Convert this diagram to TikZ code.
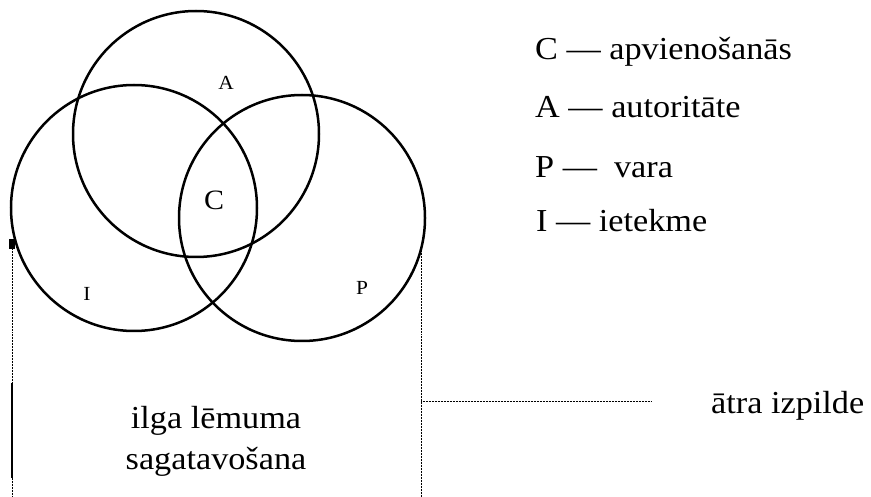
\documentclass[tikz,border=0pt]{standalone}
\usepackage{fontspec}
\setmainfont[FakeStretch=1.07]{Liberation Serif}
\usetikzlibrary{positioning}

\begin{document}
\begin{tikzpicture}[x=1pt, y=-1pt,
  ring/.style={circle, draw, line width=2.5pt, inner sep=0pt, minimum size=246pt},
  tag/.style={font=\fontsize{20}{22}\selectfont, inner sep=0pt},
  legend/.style={anchor=base west, inner sep=0pt, font=\fontsize{32}{34}\selectfont},
  caption/.style={anchor=base, inner sep=0pt, font=\fontsize{32}{34}\selectfont},
  guide/.style={densely dotted, line width=0.5pt}]

  \useasboundingbox (0,0) rectangle (871,497);

  % three circles
  \node[ring] (circA) at (196,134) {};
  \node[ring] (circI) at (134,208) {};
  \node[ring] (circP) at (302,218) {};

  % circle labels
  \node[tag] (labA) at (226,83) {A};
  \node[tag, font=\fontsize{28}{30}\selectfont] (labC) at (214,200) {C};
  \node[tag] (labI) at (87,294) {I};
  \node[tag] (labP) at (362,288) {P};

  % legend
  \node[legend] (legC) at (535,60) {C — apvienošanās};
  \node[legend] (legA) at (535,118) {A — autoritāte};
  \node[legend] (legP) at (535,178) {P — \ vara};
  \node[legend] (legI) at (536,232) {I — ietekme};

  % captions
  \node[caption] (slow1) at (216,428) {ilga lēmuma};
  \node[caption] (slow2) at (216,469) {sagatavošana};
  \node[legend] (fast) at (711,413) {ātra izpilde};

  % guide lines
  \coordinate (leftTop) at (12,245);
  \coordinate (leftEnd) at (12,497);
  \coordinate (rightTop) at (421,247);
  \coordinate (rightEnd) at (421,497);
  \coordinate (midR) at (421,401);
  \coordinate (fastEnd) at (651,401);
  \coordinate (barTop) at (12,383);
  \coordinate (barEnd) at (12,478);

  \fill (leftTop) ++(-3,-6) rectangle ++(6,10);
  \draw[guide] (leftTop) -- (leftEnd);
  \draw[guide] (rightTop) -- (rightEnd);
  \draw[guide] (midR) -- (fastEnd);
  \draw[line width=2.5pt] (barTop) -- (barEnd);

\end{tikzpicture}
\end{document}
